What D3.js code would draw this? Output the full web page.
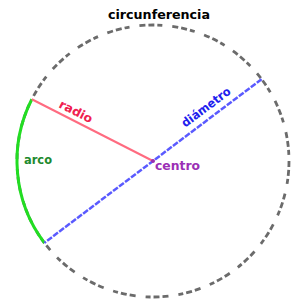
<!DOCTYPE html>
<html>
<head>
<meta charset="utf-8">
<script src="https://cdn.jsdelivr.net/npm/d3@7"></script>
<style>
  body { margin: 0; background: #fff; }
  text { font-family: 'DejaVu Sans', sans-serif; font-weight: bold; }
</style>
</head>
<body>
<svg id="chart"></svg>
<script>
// parts of the circle, angles in degrees (0 = right, counter-clockwise)
const partNames = ['circunferencia', 'radio', 'diámetro', 'centro', 'arco'];
const radiusAngle = 153;
const diameterAngles = [37, 217];
const arcAngles = [153, 217];

const width = 292, height = 300;
const cx = 153, cy = 161, r = 136;

const svg = d3.select('#chart').attr('width', width).attr('height', height);

// unit circle -> pixels
const x = d3.scaleLinear().domain([-1, 1]).range([cx - r, cx + r]);
const y = d3.scaleLinear().domain([-1, 1]).range([cy + r, cy - r]);
const rad = d => d * Math.PI / 180;
const pt = (a, k = 1) => [x(k * Math.cos(rad(a))), y(k * Math.sin(rad(a)))];

// circunferencia
svg.append('circle')
  .attr('cx', x(0)).attr('cy', y(0)).attr('r', x(1) - x(0))
  .attr('fill', 'none')
  .attr('stroke', '#6b6b6b')
  .attr('stroke-width', 2.8)
  .attr('stroke-dasharray', '6,3,6,3,5,10');

// arco
const arc = d3.arc()
  .innerRadius(x(1) - x(0))
  .outerRadius(x(1) - x(0))
  .startAngle(rad(90 - arcAngles[0]))
  .endAngle(rad(90 - arcAngles[1]));
svg.append('path')
  .attr('transform', 'translate(' + x(0) + ',' + y(0) + ')')
  .attr('d', arc())
  .attr('fill', 'none')
  .attr('stroke', '#22dd22')
  .attr('stroke-width', 3);

// radio
svg.append('line')
  .attr('x1', x(0)).attr('y1', y(0))
  .attr('x2', pt(radiusAngle)[0]).attr('y2', pt(radiusAngle)[1])
  .attr('stroke', '#ff6b80')
  .attr('stroke-width', 2);

// diámetro
svg.append('line')
  .attr('x1', pt(diameterAngles[0])[0]).attr('y1', pt(diameterAngles[0])[1])
  .attr('x2', pt(diameterAngles[1])[0]).attr('y2', pt(diameterAngles[1])[1])
  .attr('stroke', '#5a5aff')
  .attr('stroke-width', 2.5)
  .attr('stroke-dasharray', '6,1.5');

// centro dot
svg.append('circle')
  .attr('cx', x(0)).attr('cy', y(0)).attr('r', 2)
  .attr('fill', '#9b30b0');

// labels
svg.append('text')
  .attr('x', x(0) + 6).attr('y', 19)
  .attr('text-anchor', 'middle')
  .attr('font-size', 12)
  .attr('textLength', 102).attr('lengthAdjust', 'spacingAndGlyphs')
  .attr('fill', '#000')
  .text(partNames[0]);

const rp = pt(radiusAngle, 0.67);
svg.append('text')
  .attr('transform', 'translate(' + rp[0] + ',' + rp[1] + ') rotate(' + (180 - radiusAngle) + ') translate(0,-5)')
  .attr('text-anchor', 'middle')
  .attr('font-size', 12)
  .attr('textLength', 36).attr('lengthAdjust', 'spacingAndGlyphs')
  .attr('fill', '#f0204f')
  .text(partNames[1]);

const dp = pt(diameterAngles[0], 0.55);
svg.append('text')
  .attr('transform', 'translate(' + dp[0] + ',' + dp[1] + ') rotate(' + (-diameterAngles[0]) + ') translate(0,-7)')
  .attr('text-anchor', 'middle')
  .attr('font-size', 12)
  .attr('textLength', 58).attr('lengthAdjust', 'spacingAndGlyphs')
  .attr('fill', '#2020ee')
  .text(partNames[2]);

svg.append('text')
  .attr('x', x(0) + 2).attr('y', y(0) + 9)
  .attr('font-size', 12)
  .attr('textLength', 45).attr('lengthAdjust', 'spacingAndGlyphs')
  .attr('fill', '#9b2fb5')
  .text(partNames[3]);

svg.append('text')
  .attr('x', 24).attr('y', 164)
  .attr('font-size', 12)
  .attr('textLength', 28).attr('lengthAdjust', 'spacingAndGlyphs')
  .attr('fill', '#1e8a2e')
  .text(partNames[4]);
</script>
</body>
</html>
